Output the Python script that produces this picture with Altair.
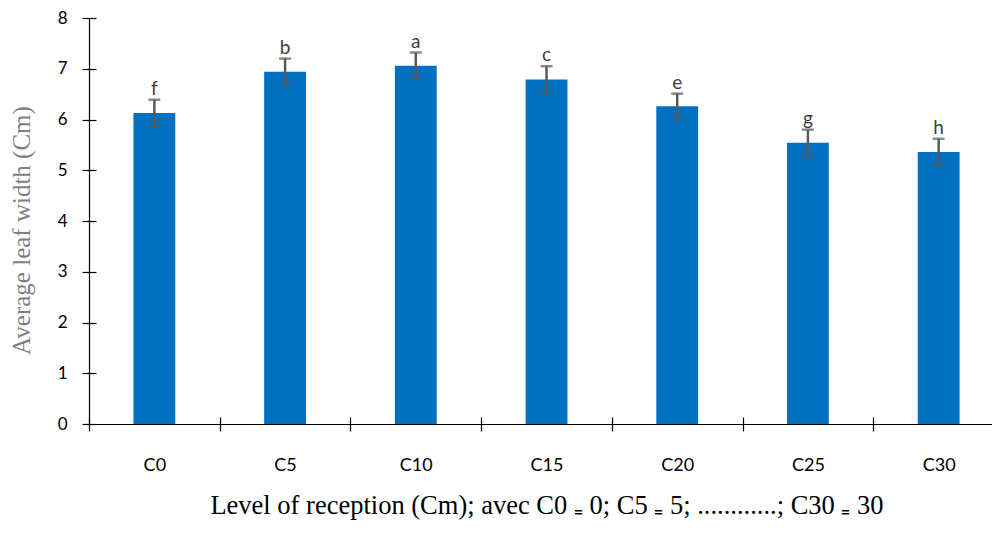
import altair as alt
import pandas as pd

cats = ["C0", "C5", "C10", "C15", "C20", "C25", "C30"]
means = [6.13, 6.94, 7.06, 6.79, 6.26, 5.54, 5.36]
errs = [0.26, 0.26, 0.26, 0.26, 0.25, 0.26, 0.26]
letters = ["f", "b", "a", "c", "e", "g", "h"]

df = pd.DataFrame({"cat": cats, "mean": means, "err": errs, "letter": letters})
df["lo"] = df["mean"] - df["err"]
df["hi"] = df["mean"] + df["err"]

LABEL_FONT = "Lato"
SERIF = "Liberation Serif"
STEP = 915 / 7

xscale = alt.Scale(range=[0, 915], paddingInner=0.68, paddingOuter=0.34)
yscale = alt.Scale(domain=[0, 8], nice=False, zero=True)

base = alt.Chart(df)

bars = base.mark_bar(color="#0070C0").encode(
    x=alt.X("cat:N", sort=cats, scale=xscale,
            axis=alt.Axis(orient="bottom", title="Level of reception (Cm); avec C0 \u208c 0; C5 \u208c 5; ............; C30 \u208c 30",
                          titleFont=SERIF, titleFontSize=26.5, titleFontWeight="normal", titleColor="#000000",
                          titleBaseline="alphabetic", titleAlign="center", titleX=457.5, titleY=89,
                          labelFont=LABEL_FONT, labelFontSize=18, labelColor="#000000", labelAngle=0,
                          labelPadding=25, labelOffset=STEP / 2,
                          ticks=True, tickSize=7, tickOffset=-STEP / 2, tickColor="#000000",
                          tickWidth=1.2, domain=True, domainColor="#000000", domainWidth=1.2, grid=False)),
    y=alt.Y("mean:Q", scale=yscale,
            axis=alt.Axis(orient="left", title="Average leaf width (Cm)", values=[0, 1, 2, 3, 4, 5, 6, 7, 8],
                          titleFont=SERIF, titleFontSize=25, titleFontWeight="normal", titleColor="#7f7f7f",
                          titleBaseline="alphabetic", titleAlign="center", titleAngle=-90, titleX=-60, titleY=212,
                          labelFont=LABEL_FONT, labelFontSize=17, labelColor="#000000", labelPadding=15,
                          ticks=True, tickSize=7, tickColor="#000000", tickWidth=1.2,
                          domain=True, domainColor="#000000", domainWidth=1.2, grid=False)),
)

rules = base.mark_rule(color="#595959", strokeWidth=2.5).encode(
    x=alt.X("cat:N", sort=cats, scale=xscale,
            axis=alt.Axis(orient="bottom", offset=-7, title=None, labels=False, domain=False,
                          ticks=True, tickSize=7, tickOffset=-STEP / 2, tickColor="#000000", tickWidth=1.2, grid=False)),
    y=alt.Y("lo:Q", scale=yscale,
            axis=alt.Axis(orient="left", offset=-7, title=None, labels=False, domain=False,
                          values=[0, 1, 2, 3, 4, 5, 6, 7, 8],
                          ticks=True, tickSize=7, tickColor="#000000", tickWidth=1.2, grid=False)),
    y2="hi:Q",
)

caps_hi = base.mark_tick(color="#595959", thickness=2.5, size=12).encode(
    x=alt.X("cat:N", sort=cats, scale=xscale, axis=None),
    y=alt.Y("hi:Q", scale=yscale, axis=None),
)
caps_lo = base.mark_tick(color="#595959", thickness=2.5, size=12).encode(
    x=alt.X("cat:N", sort=cats, scale=xscale, axis=None),
    y=alt.Y("lo:Q", scale=yscale, axis=None),
)

text = base.mark_text(font=LABEL_FONT, fontSize=19, color="#404040", baseline="alphabetic", dy=-5).encode(
    x=alt.X("cat:N", sort=cats, scale=xscale, axis=None),
    y=alt.Y("hi:Q", scale=yscale, axis=None),
    text="letter:N",
)

chart = alt.layer(bars, rules, caps_hi, caps_lo, text).resolve_axis(
    x="independent", y="independent"
).properties(
    width=903, height=406,
    autosize=alt.AutoSizeParams(type="none"),
    padding={"left": 81, "top": 10, "right": 0, "bottom": 100},
    background="#ffffff",
).configure_view(stroke=None)

chart.save("out.html", embed_options={"renderer": "svg", "actions": False})
